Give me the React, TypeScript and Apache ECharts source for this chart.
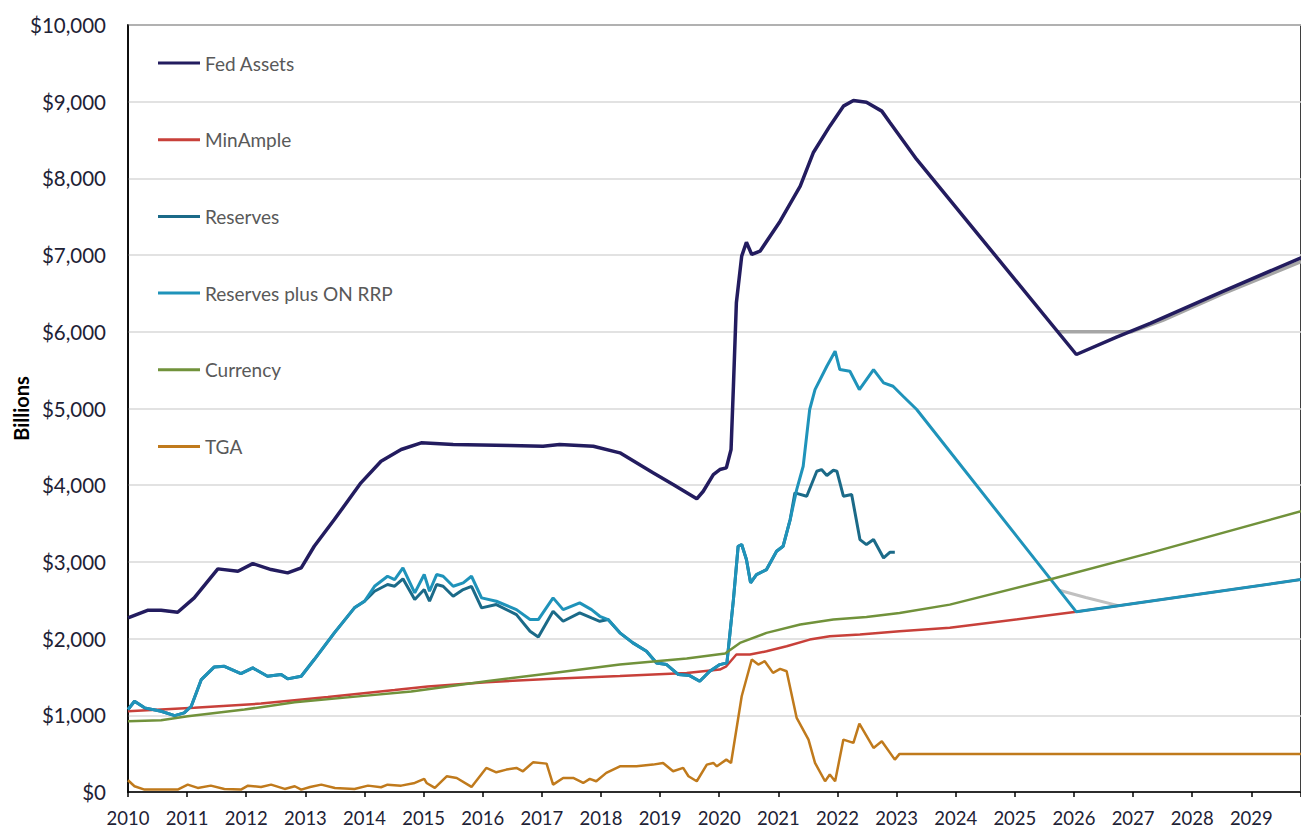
import React, { useEffect, useRef } from "react";
import * as echarts from "echarts";

const yearTicks = [2010, 2011, 2012, 2013, 2014, 2015, 2016, 2017, 2018, 2019, 2020, 2021, 2022, 2023, 2024, 2025, 2026, 2027, 2028, 2029];

const fedAssets: [number, number][] = [
  [2010.0, 2270], [2010.33, 2369], [2010.56, 2369], [2010.84, 2343], [2011.12, 2531], [2011.52, 2909],
  [2011.86, 2878], [2012.11, 2978], [2012.42, 2900], [2012.7, 2857], [2012.93, 2922], [2013.15, 3204],
  [2013.49, 3552], [2013.94, 4031], [2014.28, 4312], [2014.62, 4465], [2014.96, 4552], [2015.5, 4530],
  [2016.46, 4517], [2017.02, 4508], [2017.3, 4530], [2017.87, 4508], [2018.32, 4422], [2018.88, 4161],
  [2019.22, 4009], [2019.62, 3822], [2019.73, 3921], [2019.9, 4139], [2020.01, 4204], [2020.12, 4226],
  [2020.2, 4465], [2020.24, 5290], [2020.29, 6378], [2020.38, 6986], [2020.46, 7168], [2020.55, 7008],
  [2020.69, 7051], [2021.03, 7442], [2021.37, 7898], [2021.59, 8334], [2021.87, 8681], [2022.1, 8942],
  [2022.27, 9016], [2022.49, 8994], [2022.75, 8877], [2022.89, 8725], [2023.34, 8247], [2023.9, 7720],
  [2026.04, 5704], [2026.72, 5930], [2027.29, 6110], [2028.5, 6520], [2029.84, 6965],
];

const fedAssetsAlt: [number, number][] = [
  [2025.73, 6000], [2026.97, 6000], [2027.5, 6150], [2028.5, 6490], [2029.84, 6915],
];

const minAmple: [number, number][] = [
  [2010.0, 1053], [2011.12, 1097], [2012.25, 1153], [2013.38, 1240], [2014.51, 1330], [2015.07, 1375],
  [2016.06, 1430], [2017.19, 1478], [2018.32, 1512], [2019.45, 1550], [2020.01, 1596], [2020.12, 1639],
  [2020.29, 1792], [2020.52, 1792], [2020.8, 1835], [2021.14, 1900], [2021.53, 1987], [2021.87, 2030],
  [2022.38, 2053], [2023.05, 2096], [2023.9, 2140], [2026.04, 2349], [2029.84, 2770],
];

const reserves: [number, number][] = [
  [2010.0, 1075], [2010.11, 1183], [2010.28, 1097], [2010.56, 1053], [2010.79, 996], [2010.95, 1031],
  [2011.07, 1118], [2011.24, 1466], [2011.46, 1631], [2011.63, 1639], [2011.91, 1544], [2012.11, 1618],
  [2012.36, 1509], [2012.59, 1531], [2012.7, 1475], [2012.93, 1509], [2013.15, 1727], [2013.49, 2075],
  [2013.83, 2401], [2014.0, 2487], [2014.17, 2617], [2014.39, 2705], [2014.51, 2683], [2014.65, 2779],
  [2014.85, 2509], [2015.01, 2639], [2015.1, 2487], [2015.22, 2705], [2015.33, 2683], [2015.5, 2552],
  [2015.67, 2639], [2015.81, 2682], [2015.98, 2401], [2016.23, 2444], [2016.57, 2313], [2016.8, 2096],
  [2016.94, 2022], [2017.19, 2357], [2017.36, 2226], [2017.64, 2335], [2017.84, 2270], [2017.98, 2226],
  [2018.12, 2248], [2018.32, 2075], [2018.54, 1944], [2018.77, 1835], [2018.94, 1683], [2019.11, 1661],
  [2019.31, 1531], [2019.5, 1518], [2019.67, 1444], [2019.84, 1574], [2020.01, 1661], [2020.13, 1683],
  [2020.24, 2509], [2020.32, 3204], [2020.38, 3226], [2020.46, 3031], [2020.53, 2727], [2020.63, 2835],
  [2020.8, 2900], [2020.97, 3139], [2021.08, 3204], [2021.2, 3552], [2021.28, 3900], [2021.48, 3856],
  [2021.65, 4182], [2021.73, 4204], [2021.82, 4126], [2021.93, 4195], [2021.99, 4182], [2022.1, 3856],
  [2022.24, 3878], [2022.38, 3291], [2022.49, 3226], [2022.61, 3291], [2022.78, 3052], [2022.89, 3126],
  [2022.97, 3126],
];

const reservesPlusRrp: [number, number][] = [
  [2010.0, 1075], [2010.11, 1183], [2010.28, 1097], [2010.56, 1053], [2010.79, 996], [2010.95, 1031],
  [2011.07, 1118], [2011.24, 1466], [2011.46, 1631], [2011.63, 1639], [2011.91, 1544], [2012.11, 1618],
  [2012.36, 1509], [2012.59, 1531], [2012.7, 1475], [2012.93, 1509], [2013.15, 1727], [2013.49, 2075],
  [2013.83, 2401], [2014.0, 2487], [2014.17, 2682], [2014.39, 2813], [2014.51, 2770], [2014.65, 2922],
  [2014.85, 2596], [2015.01, 2835], [2015.1, 2617], [2015.22, 2835], [2015.33, 2813], [2015.5, 2682],
  [2015.67, 2727], [2015.81, 2813], [2015.98, 2531], [2016.23, 2487], [2016.57, 2378], [2016.8, 2248],
  [2016.94, 2248], [2017.19, 2531], [2017.36, 2378], [2017.64, 2466], [2017.84, 2378], [2017.98, 2291],
  [2018.12, 2248], [2018.32, 2075], [2018.54, 1944], [2018.77, 1835], [2018.94, 1683], [2019.11, 1661],
  [2019.31, 1531], [2019.5, 1518], [2019.67, 1444], [2019.84, 1574], [2020.01, 1661], [2020.13, 1683],
  [2020.24, 2509], [2020.32, 3204], [2020.38, 3226], [2020.46, 3031], [2020.53, 2727], [2020.63, 2835],
  [2020.8, 2900], [2020.97, 3139], [2021.08, 3204], [2021.2, 3552], [2021.31, 3943], [2021.42, 4247],
  [2021.53, 4987], [2021.62, 5247], [2021.82, 5551], [2021.96, 5747], [2022.04, 5508], [2022.21, 5486],
  [2022.37, 5247], [2022.61, 5508], [2022.78, 5335], [2022.94, 5290], [2023.11, 5160], [2023.34, 4987],
  [2026.04, 2349], [2029.84, 2770],
];

const reservesPlusRrpAlt: [number, number][] = [
  [2025.75, 2630], [2026.2, 2535], [2026.75, 2430],
];

const currency: [number, number][] = [
  [2010.0, 922], [2010.56, 935], [2011.01, 987], [2011.97, 1075], [2012.82, 1170], [2013.94, 1250],
  [2014.79, 1310], [2015.07, 1340], [2016.06, 1444], [2017.19, 1553], [2018.32, 1661], [2019.45, 1740],
  [2020.1, 1805], [2020.35, 1944], [2020.8, 2075], [2021.37, 2183], [2021.93, 2248], [2022.49, 2283],
  [2023.05, 2335], [2023.9, 2443], [2025.59, 2770], [2027.29, 3118], [2029.84, 3661],
];

const tga: [number, number][] = [
  [2010.0, 153], [2010.11, 75], [2010.28, 31], [2010.84, 31], [2011.01, 96], [2011.18, 53], [2011.4, 83],
  [2011.63, 40], [2011.91, 31], [2012.03, 83], [2012.25, 66], [2012.42, 96], [2012.65, 40], [2012.82, 75],
  [2012.93, 31], [2013.08, 66], [2013.27, 96], [2013.5, 53], [2013.83, 40], [2014.06, 83], [2014.28, 62],
  [2014.39, 96], [2014.62, 83], [2014.85, 118], [2015.01, 171], [2015.05, 118], [2015.19, 53],
  [2015.39, 205], [2015.56, 183], [2015.81, 66], [2016.06, 314], [2016.23, 257], [2016.4, 292],
  [2016.57, 314], [2016.68, 270], [2016.85, 387], [2017.08, 370], [2017.19, 96], [2017.36, 183],
  [2017.53, 183], [2017.7, 118], [2017.81, 171], [2017.92, 140], [2018.09, 249], [2018.32, 335],
  [2018.6, 335], [2018.88, 357], [2019.05, 379], [2019.22, 270], [2019.39, 314], [2019.48, 205],
  [2019.62, 140], [2019.79, 357], [2019.9, 379], [2019.96, 335], [2020.12, 422], [2020.2, 379],
  [2020.38, 1248], [2020.55, 1727], [2020.66, 1661], [2020.77, 1705], [2020.91, 1553], [2021.03, 1605],
  [2021.14, 1574], [2021.31, 966], [2021.51, 683], [2021.62, 379], [2021.79, 140], [2021.87, 227],
  [2021.96, 140], [2022.1, 683], [2022.27, 640], [2022.37, 892], [2022.61, 575], [2022.75, 661],
  [2022.97, 422], [2023.05, 497], [2029.84, 497],
];

const legendNames = ["Fed Assets", "MinAmple", "Reserves", "Reserves plus ON RRP", "Currency", "TGA"];

const FONT = "Lato, 'Noto Sans', sans-serif";

export default function App() {
  const ref = useRef<HTMLDivElement>(null);
  useEffect(() => {
    if (!ref.current) return;
    const chart = echarts.init(ref.current, null, { renderer: "svg" });
    const line = (name: string, data: [number, number][], color: string, width: number, z = 2) => ({
      name,
      type: "line",
      data,
      symbol: "none",
      showSymbol: false,
      lineStyle: { color, width },
      itemStyle: { color },
      z,
      emphasis: { disabled: true },
    });
    chart.setOption({
      animation: false,
      textStyle: { fontFamily: FONT },
      grid: {
        left: 128,
        top: 25,
        right: 0,
        bottom: 39,
        outerBoundsMode: "none",
        containLabel: false,
        show: true,
        borderColor: "#000",
        borderWidth: 1.5,
        backgroundColor: "transparent",
      },
      legend: {
        data: legendNames,
        orient: "vertical",
        left: 153,
        top: 47,
        icon: "rect",
        itemWidth: 42,
        itemHeight: 3,
        itemGap: 54.7,
        selectedMode: false,
        textStyle: { fontFamily: FONT, fontSize: 19, color: "#595959", lineHeight: 22 },
      },
      xAxis: {
        type: "value",
        min: 2010,
        max: 2029.84,
        interval: 1,
        axisLine: { show: true, lineStyle: { color: "#000", width: 1.5 } },
        axisTick: { show: true, length: 5, lineStyle: { color: "#000", width: 1.5 } },
        splitLine: { show: false },
        axisLabel: {
          fontFamily: FONT,
          fontSize: 18.5,
          color: "#1E2235",
          margin: 16,
          lineHeight: 20,
          formatter: (v: number) => (yearTicks.includes(v) ? String(v) : ""),
        },
      },
      yAxis: {
        type: "value",
        min: 0,
        max: 10000,
        interval: 1000,
        name: "Billions",
        nameLocation: "middle",
        nameRotate: 90,
        nameGap: 97,
        nameMoveOverlap: false,
        nameTextStyle: { fontFamily: FONT, fontSize: 20, fontWeight: "bold", color: "#000" },
        axisLine: { show: true, lineStyle: { color: "#000", width: 1.5 } },
        axisTick: { show: false },
        splitLine: { show: true, lineStyle: { color: "#D9D9D9", width: 1.5 } },
        axisLabel: {
          fontFamily: FONT,
          fontSize: 20.5,
          color: "#1E2235",
          margin: 22,
          formatter: (v: number) => "$" + v.toLocaleString("en-US"),
        },
      },
      series: [
        line("Fed Assets alt", fedAssetsAlt, "#A6A6A6", 3.5, 1),
        line("Reserves plus ON RRP alt", reservesPlusRrpAlt, "#C0C0C0", 3, 1),
        line("Fed Assets", fedAssets, "#231C5F", 3.5),
        line("MinAmple", minAmple, "#C8403A", 2.5),
        line("Reserves", reserves, "#1B6A88", 3),
        line("Reserves plus ON RRP", reservesPlusRrp, "#1F93BA", 3),
        line("Currency", currency, "#71923B", 2.5),
        line("TGA", tga, "#C07A1C", 2.5),
      ],
    });
    return () => chart.dispose();
  }, []);
  return (
    <div
      ref={ref}
      style={{ position: "fixed", left: 0, top: 0, width: 1301, height: 831, background: "#fff" }}
    />
  );
}
